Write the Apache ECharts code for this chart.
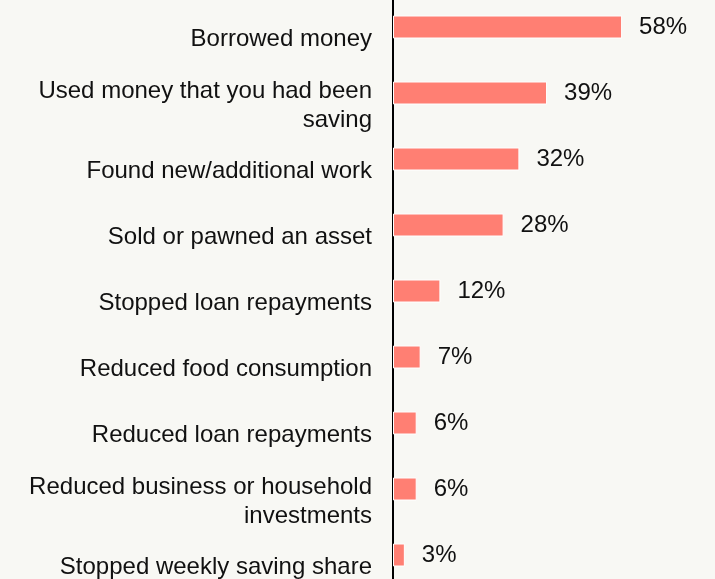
<!DOCTYPE html>
<html>
<head>
<meta charset="utf-8">
<script src="https://cdn.jsdelivr.net/npm/echarts@6/dist/echarts.min.js"></script>
<style>
  html, body { margin: 0; padding: 0; background: #f8f8f4; }
  #chart { width: 715px; height: 579px; }
</style>
</head>
<body>
<div id="chart"></div>
<script>
// Coping strategies and share of respondents using each
const categories = [
  'Borrowed money',
  'Used money that you had been\nsaving',
  'Found new/additional work',
  'Sold or pawned an asset',
  'Stopped loan repayments',
  'Reduced food consumption',
  'Reduced loan repayments',
  'Reduced business or household\ninvestments',
  'Stopped weekly saving share'
];
const shares = [58, 39, 32, 28, 12, 7, 6, 6, 3];

const FONT = 'Liberation Sans, Arial, sans-serif';

// Category labels sit a little below their bar: an empty spacer line on top
// pushes the text block down.
function categoryLabel(value) {
  return '{s| }\n' + value.split('\n').map(l => '{t|' + l + '}').join('\n');
}

const chart = echarts.init(document.getElementById('chart'));
chart.setOption({
  backgroundColor: '#f8f8f4',
  animation: false,
  grid: {
    left: 393, width: 316, top: -6, height: 594,
    containLabel: false,
    outerBoundsMode: 'none'
  },
  xAxis: {
    type: 'value', min: 0, max: 80, show: false
  },
  yAxis: {
    type: 'category',
    data: categories,
    inverse: true,
    axisLine: { show: true, lineStyle: { color: '#000', width: 2 } },
    axisTick: { show: false },
    axisLabel: {
      interval: 0,
      showMinLabel: true,
      showMaxLabel: true,
      hideOverlap: false,
      margin: 21,
      align: 'right',
      formatter: categoryLabel,
      rich: {
        s: { fontSize: 10, lineHeight: 25, fontFamily: FONT },
        t: { color: '#111', fontFamily: FONT, fontSize: 24, lineHeight: 29, align: 'right' }
      }
    }
  },
  series: [{
    type: 'bar',
    data: shares,
    barWidth: 23,
    itemStyle: { color: '#ff7f73', borderColor: '#ffffff', borderWidth: 1 },
    label: {
      show: true,
      position: 'right',
      distance: 17,
      formatter: '{c}%',
      color: '#111',
      fontFamily: FONT,
      fontSize: 24
    }
  }]
});
</script>
</body>
</html>
